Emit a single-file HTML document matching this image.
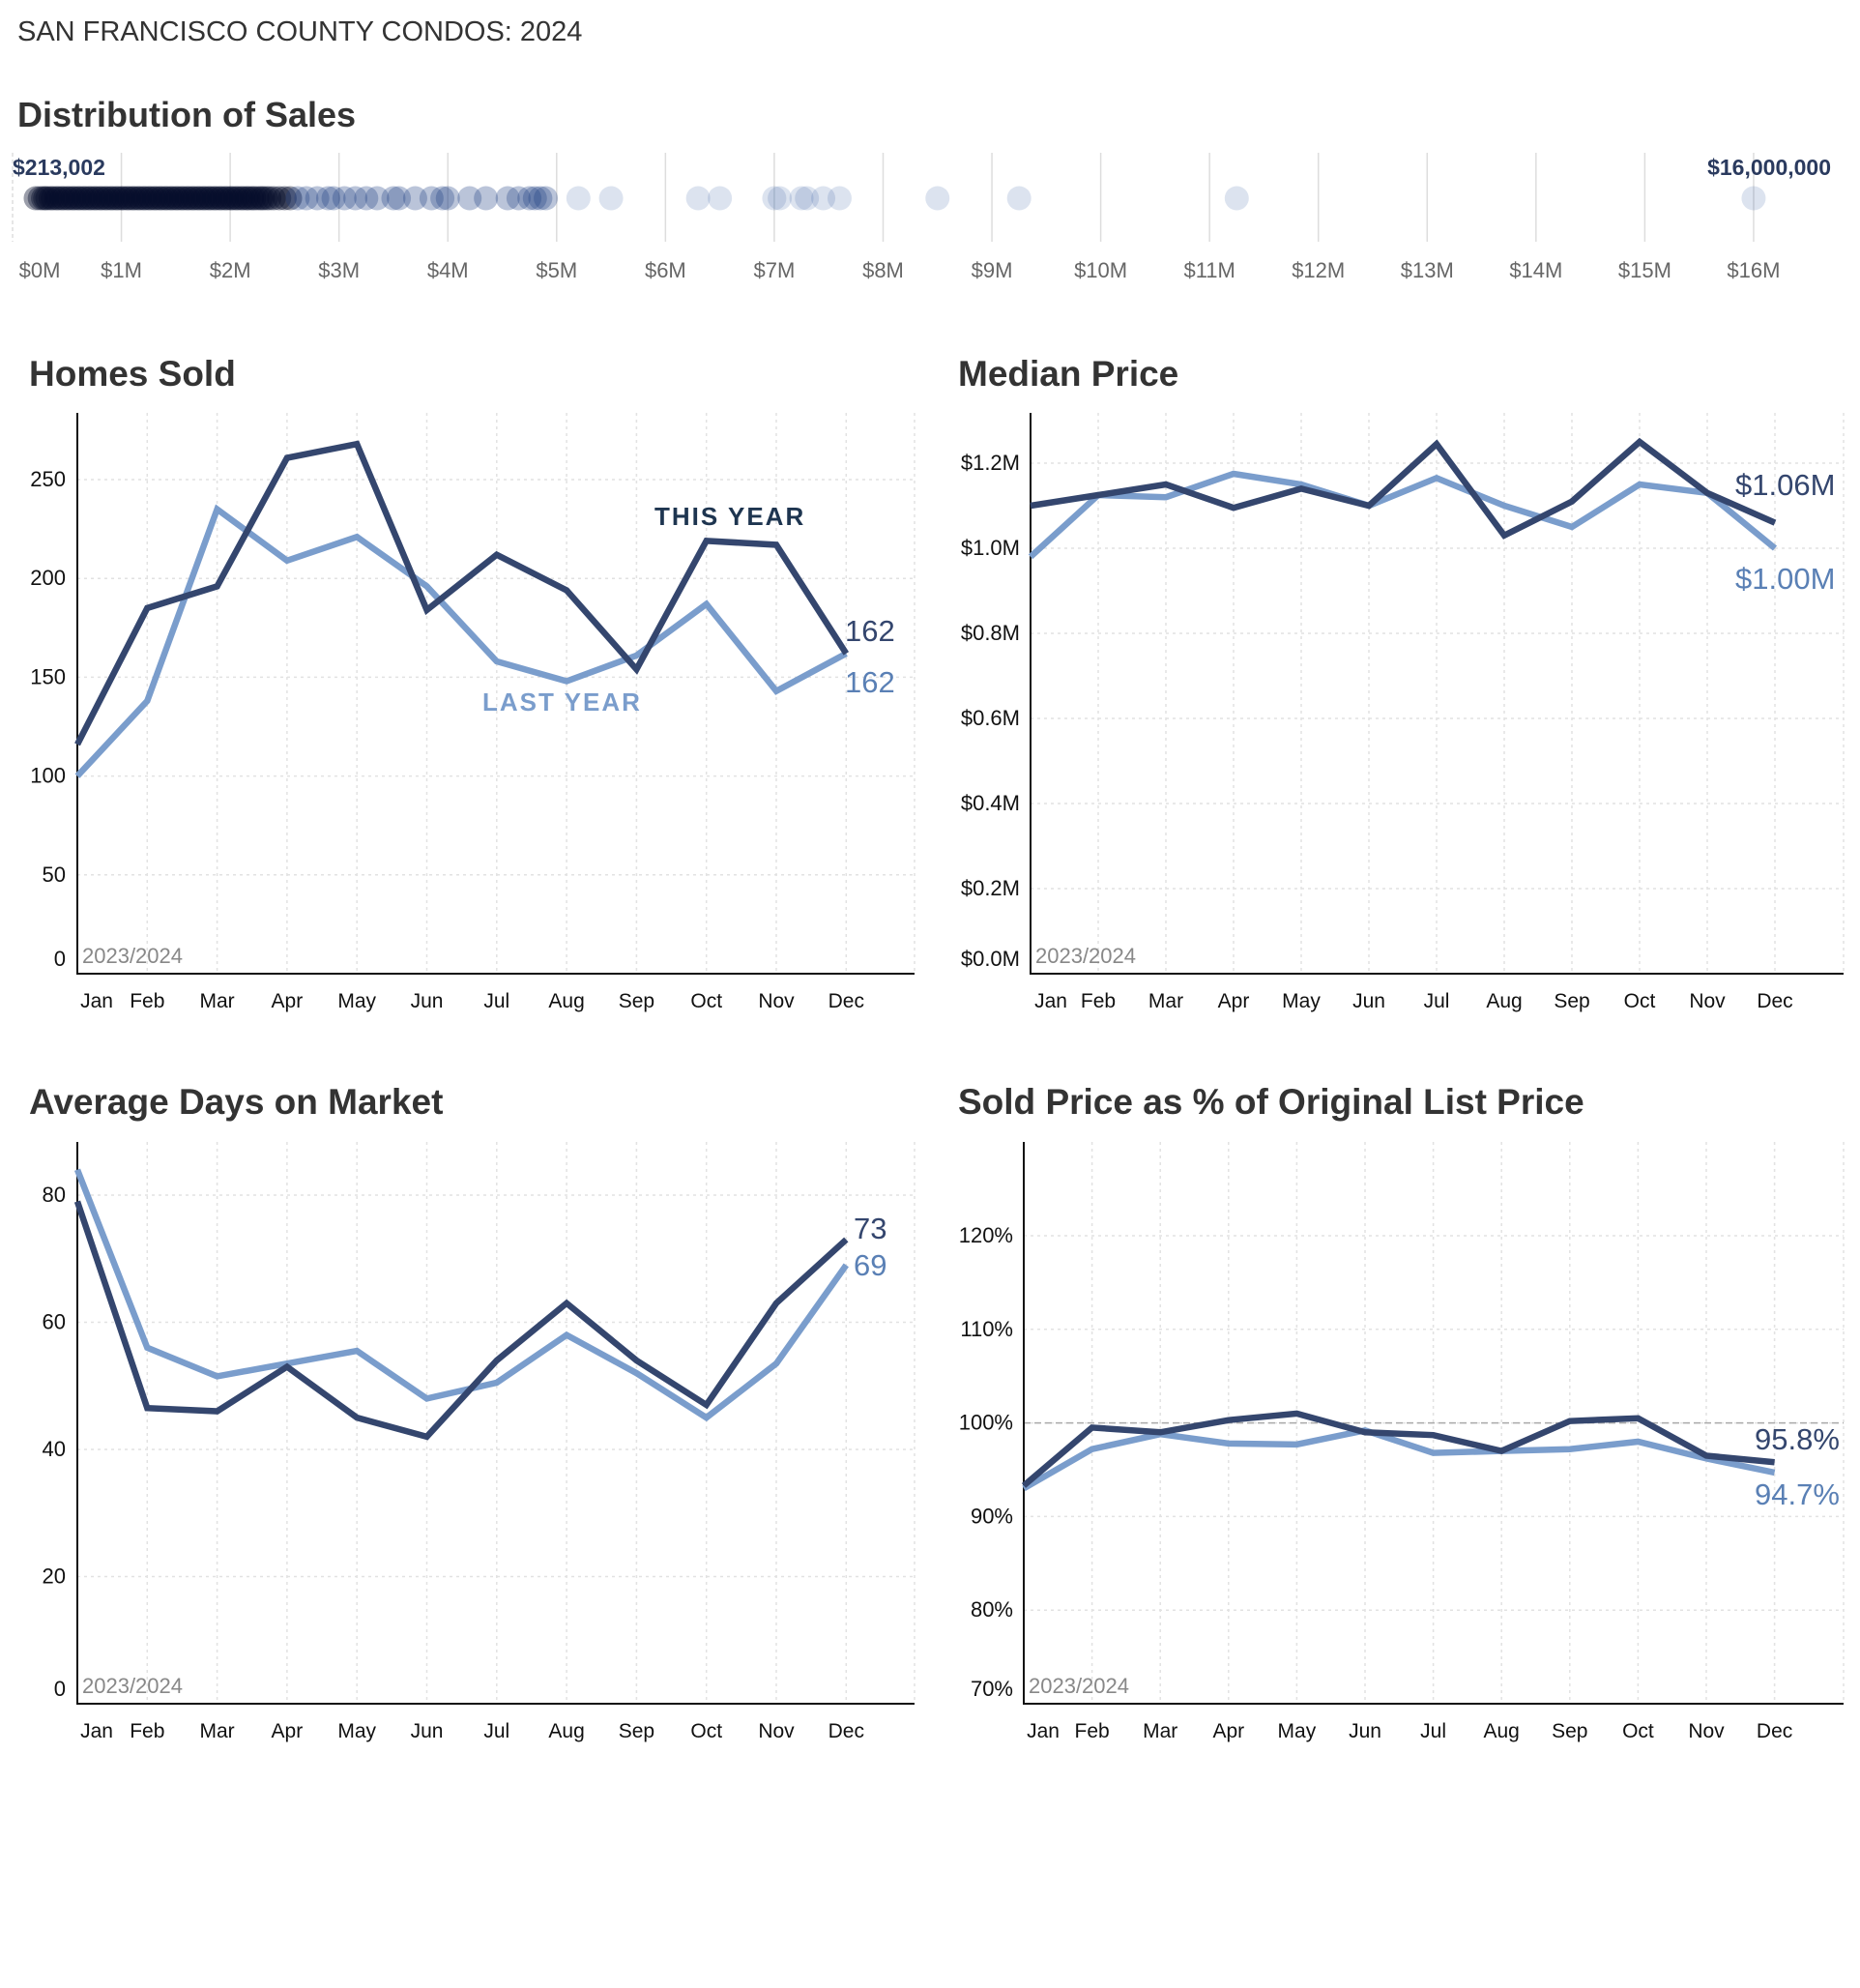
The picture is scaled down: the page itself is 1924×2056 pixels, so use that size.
<!DOCTYPE html>
<html><head><meta charset="utf-8"><style>
html,body{margin:0;padding:0;background:#fff;width:1924px;height:2056px;overflow:hidden}
svg{display:block;font-family:"Liberation Sans",sans-serif}
</style></head><body>
<svg id="root" width="1924" height="2056" viewBox="0 0 1924 2056">
<text x="18" y="42" font-size="29" fill="#333">SAN FRANCISCO COUNTY CONDOS: 2024</text>
<text x="18" y="131" font-size="36" font-weight="bold" fill="#333">Distribution of Sales</text>
<g id="dist"></g>
<text x="30" y="399" font-size="37" font-weight="bold" fill="#333">Homes Sold</text>
<text x="991" y="399" font-size="37" font-weight="bold" fill="#333">Median Price</text>
<text x="30" y="1152" font-size="37" font-weight="bold" fill="#333">Average Days on Market</text>
<text x="991" y="1152" font-size="37" font-weight="bold" fill="#333">Sold Price as % of Original List Price</text>
<g id="c1"></g>
<g id="c2"></g>
<g id="c3"></g>
<g id="c4"></g>
</svg>
<script>
const NS='http://www.w3.org/2000/svg';
const months=['Jan','Feb','Mar','Apr','May','Jun','Jul','Aug','Sep','Oct','Nov','Dec'];
const distTicks=[0,1,2,3,4,5,6,7,8,9,10,11,12,13,14,15,16];
const salePrices=[0.213,0.25,0.28,0.3,0.32,0.35,0.37,0.4,0.42,0.45,0.47,0.5,0.52,0.55,0.57,0.6,0.62,0.65,0.67,0.7,0.72,0.75,0.77,0.8,0.82,0.85,0.87,0.9,0.92,0.95,0.97,1.0,1.02,1.05,1.07,1.1,1.12,1.15,1.17,1.2,1.22,1.25,1.27,1.3,1.32,1.35,1.37,1.4,1.42,1.45,1.47,1.5,1.52,1.55,1.57,1.6,1.62,1.65,1.67,1.7,1.72,1.75,1.77,1.8,1.82,1.85,1.87,1.9,1.92,1.95,1.97,2.0,2.02,2.05,2.07,2.1,2.12,2.15,2.17,2.2,2.22,2.25,2.28,2.3,2.33,2.36,2.4,2.45,2.5,2.55,2.62,2.7,2.8,2.9,2.95,3.05,3.15,3.25,3.35,3.5,3.55,3.7,3.85,3.95,4.0,4.2,4.35,4.55,4.65,4.75,4.8,4.85,4.9,5.2,5.5,6.3,6.5,7.0,7.05,7.25,7.3,7.45,7.6,8.5,9.25,11.25,16.0];
const homesThis=[116,185,196,261,268,184,212,194,154,219,217,162];
const homesLast=[100,138,235,209,221,196,158,148,161,187,143,162];
const homesTicks=[0,50,100,150,200,250];
const priceThis=[1.10,1.125,1.15,1.095,1.14,1.10,1.245,1.03,1.11,1.25,1.13,1.06];
const priceLast=[0.98,1.125,1.12,1.175,1.15,1.10,1.165,1.10,1.05,1.15,1.13,1.00];
const priceTicks=[0,0.2,0.4,0.6,0.8,1.0,1.2];
const domThis=[79,46.5,46,53,45,42,54,63,54,47,63,73];
const domLast=[84,56,51.5,53.5,55.5,48,50.5,58,52,45,53.5,69];
const domTicks=[0,20,40,60,80];
const pctThis=[93.3,99.5,99.0,100.3,101.0,99.0,98.7,97.0,100.2,100.5,96.5,95.8];
const pctLast=[93.0,97.2,98.8,97.8,97.7,99.2,96.8,97.0,97.2,98.0,96.2,94.7];
const pctTicks=[70,80,90,100,110,120];

function el(tag,attrs,parent,txt){const e=document.createElementNS(NS,tag);for(const k in attrs)e.setAttribute(k,attrs[k]);if(txt!=null)e.textContent=txt;parent.appendChild(e);return e;}

(function(){
 const g=document.getElementById('dist');
 const xs=v=>13+v*112.56;
 distTicks.forEach(t=>{
  const l=el('line',{x1:xs(t),x2:xs(t),y1:158,y2:250,stroke:'#ddd','stroke-width':1.5,'stroke-dasharray':t===0?'4,3':'none'},g);
  
  
  const tx=el('text',{x:xs(t)+(t===0?28:0),y:287,'font-size':22,fill:'#666','text-anchor':'middle'},g,'$'+t+'M');
  
  
 });
 salePrices.forEach(v=>{
  const dense=v<2.6, mid=v>=2.6&&v<5;
  const c=el('circle',{cx:xs(v),cy:205,r:12.5,fill:dense?'#050d2a':(mid?'#1a3a80':'#2f5a9e'),'fill-opacity':dense?0.4:(mid?0.3:0.17)},g);
  
  
 });
 const a=el('text',{x:13,y:181,'font-size':23,fill:'#2a3a5e','font-weight':'bold'},g,'$213,002');
 
 
 const b=el('text',{x:1894,y:181,'font-size':23,fill:'#2a3a5e','text-anchor':'end','font-weight':'bold'},g,'$16,000,000');
 
 
})();

function chart(id,cfg){
 const g=document.getElementById(id);
 const X=i=>cfg.x0+i*cfg.step;
 const Y=v=>cfg.yb-(v-cfg.vmin)*(cfg.yb-cfg.yt)/(cfg.vmax-cfg.vmin);
 months.forEach((m,i)=>{
  if(i>0){const l=el('line',{x1:X(i),x2:X(i),y1:cfg.top,y2:cfg.yb,stroke:'#e2e2e2','stroke-width':1.5,'stroke-dasharray':'3,4'},g);
  
  }
  const t=el('text',{x:X(i)+(i===0?cfg.janOff:0),y:cfg.yb+35,'font-size':21,fill:'#111','text-anchor':'middle'},g,m);
  
  
 });
 el('line',{x1:cfg.right,x2:cfg.right,y1:cfg.top,y2:cfg.yb,stroke:'#e2e2e2','stroke-width':1.5,'stroke-dasharray':'3,4'},g);
 cfg.ticks.forEach(t=>{
  const y=Y(t);
  if(t!==cfg.vmin){const l=el('line',{x1:cfg.x0,x2:cfg.right,y1:y,y2:y,stroke:'#e2e2e2','stroke-width':1.5,'stroke-dasharray':'3,4'},g);
  
  }
  const tx=el('text',{x:cfg.lblX,y:(t===cfg.vmin?y-8:y+7),'font-size':22,fill:'#111','text-anchor':'end'},g,cfg.fmt(t));
  
  
 });
 if(cfg.ref!=null){const r=el('line',{x1:cfg.x0,x2:cfg.right,y1:Y(cfg.ref),y2:Y(cfg.ref),stroke:'#aaa','stroke-width':1.5,'stroke-dasharray':'7,4'},g);
  
  }
 el('line',{x1:cfg.x0,x2:cfg.x0,y1:cfg.top,y2:cfg.yb+1,stroke:'#111','stroke-width':2},g);
 el('line',{x1:cfg.x0,x2:cfg.right,y1:cfg.yb,y2:cfg.yb,stroke:'#111','stroke-width':2},g);
 const yr=el('text',{x:cfg.x0+5,y:cfg.yb-11,'font-size':22,fill:'#888'},g,'2023/2024');
 
 
 [[cfg.last,'#7a9dcc','last-year-line'],[cfg.cur,'#34466e','this-year-line']].forEach(([d,c,n])=>{
  const p=el('polyline',{points:d.map((v,i)=>X(i)+','+Y(v)).join(' '),fill:'none',stroke:c,'stroke-width':6.5,'stroke-linejoin':'miter'},g);
  
  
 });
 const a=el('text',{x:cfg.endX,y:cfg.endY1,'font-size':31,fill:'#34466e'},g,cfg.lab1);
 
 
 const b=el('text',{x:cfg.endX,y:cfg.endY2,'font-size':31,fill:'#5a80b5'},g,cfg.lab2);
 
 
}
chart('c1',{x0:80,step:72.3,right:946,top:427,yb:1007,yt:496,vmin:0,vmax:250,ticks:homesTicks,fmt:t=>t,lblX:68,janOff:20,cur:homesThis,last:homesLast,endX:874,endY1:663,endY2:716,lab1:homesThis[11],lab2:homesLast[11]});
chart('c2',{x0:1066,step:70,right:1907,top:427,yb:1007,yt:479,vmin:0,vmax:1.2,ticks:priceTicks,fmt:t=>'$'+t.toFixed(1)+'M',lblX:1055,janOff:21,cur:priceThis,last:priceLast,endX:1795,endY1:512,endY2:609,lab1:'$'+priceThis[11].toFixed(2)+'M',lab2:'$'+priceLast[11].toFixed(2)+'M'});
chart('c3',{x0:80,step:72.3,right:946,top:1181,yb:1762,yt:1236,vmin:0,vmax:80,ticks:domTicks,fmt:t=>t,lblX:68,janOff:20,cur:domThis,last:domLast,endX:883,endY1:1281,endY2:1319,lab1:domThis[11],lab2:domLast[11]});
chart('c4',{x0:1059,step:70.6,right:1907,top:1181,yb:1762,yt:1278,vmin:70,vmax:120,ticks:pctTicks,fmt:t=>t+'%',lblX:1048,janOff:20,ref:100,cur:pctThis,last:pctLast,endX:1815,endY1:1499,endY2:1556,lab1:pctThis[11].toFixed(1)+'%',lab2:pctLast[11].toFixed(1)+'%'});
const r=document.getElementById('c1');
const t1=el('text',{x:677,y:543,'font-size':26,fill:'#1e3550','letter-spacing':2,'font-weight':'bold'},r,'THIS YEAR');


const t2=el('text',{x:499,y:735,'font-size':26,fill:'#7a9dcc','letter-spacing':2,'font-weight':'bold'},r,'LAST YEAR');


</script>
</body></html>
